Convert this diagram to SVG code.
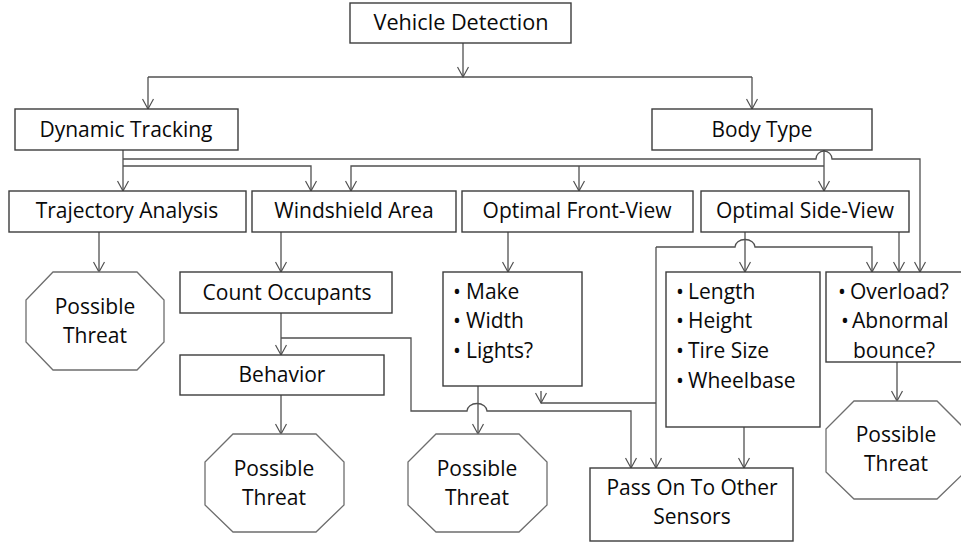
<svg xmlns="http://www.w3.org/2000/svg" width="961" height="546" viewBox="0 0 961 546">
  <defs>
    <style>
      .box { fill: #ffffff; stroke: #3c3c3c; stroke-width: 1.4; }
      .oct { fill: #ffffff; stroke: #6e6e6e; stroke-width: 1.3; }
      .lbl { font-family: "Open Sans", "Liberation Sans", sans-serif; font-size: 21px; fill: #0a0a0a; text-anchor: middle; }
      .top { font-size: 22px; }
      .lst { font-family: "Open Sans", "Liberation Sans", sans-serif; font-size: 21px; fill: #0a0a0a; }
      .con { fill: none; stroke: #505050; stroke-width: 1.3; }
      .arr { marker-end: url(#vhead); }
    </style>
    <marker id="vhead" viewBox="0 0 12 12" refX="11" refY="6" markerWidth="12" markerHeight="12" markerUnits="userSpaceOnUse" orient="auto">
      <path d="M1,0.5 L11,6 L1,11.5" fill="none" stroke="#505050" stroke-width="1.2"/>
    </marker>
  </defs>

  <rect width="961" height="546" fill="#ffffff"/>

  <!-- connectors -->
  <g id="connectors">
    <!-- Vehicle Detection split -->
    <path class="con arr" d="M463,43 V77"/>
    <path class="con" d="M148,77 H752"/>
    <path class="con arr" d="M148,77 V109"/>
    <path class="con arr" d="M752,77 V109"/>

    <!-- Dynamic Tracking outputs -->
    <path class="con arr" d="M123,150 V191"/>
    <path class="con arr" d="M123,166 H311 V191"/>
    <path class="con arr" d="M123,159 H816 A8,8 0 0 1 832,159 H920 V272"/>

    <!-- Body Type outputs -->
    <path class="con arr" d="M824,150 V191"/>
    <path class="con arr" d="M824,166 H351 V191"/>
    <path class="con arr" d="M579,166 V191"/>

    <!-- row two downwards -->
    <path class="con arr" d="M99,232 V272"/>
    <path class="con arr" d="M281,232 V272"/>
    <path class="con arr" d="M508,232 V272"/>
    <path class="con arr" d="M745,232 V272"/>
    <path class="con arr" d="M899,232 V272"/>

    <!-- Pass On feed, hopping over the side view stem -->
    <path class="con arr" d="M656,247 H735 A10,7.5 0 0 1 755,247 H872 V272"/>
    <path class="con arr" d="M656,247 V468"/>
    <path class="con" d="M656,403 H541"/>
    <path class="con arr" d="M541,391 V403"/>

    <!-- occupants / behavior -->
    <path class="con arr" d="M281,313 V355"/>
    <path class="con arr" d="M281,338 H411 V411 H467 A10,7.5 0 0 1 487,411 H631 V468"/>
    <path class="con arr" d="M281,395 V434"/>

    <!-- lists downwards -->
    <path class="con arr" d="M478,386 V434"/>
    <path class="con arr" d="M744,427 V468"/>
    <path class="con arr" d="M897,362 V401"/>
  </g>

  <!-- nodes -->
  <g id="vehicle-detection">
    <rect class="box" x="350" y="3" width="221" height="40"/>
    <text class="lbl top" x="461" y="30" textLength="175" lengthAdjust="spacingAndGlyphs">Vehicle Detection</text>
  </g>
  <g id="dynamic-tracking">
    <rect class="box" x="15" y="109" width="223" height="41"/>
    <text class="lbl top" x="126" y="137" textLength="173" lengthAdjust="spacingAndGlyphs">Dynamic Tracking</text>
  </g>
  <g id="body-type">
    <rect class="box" x="652" y="109" width="220" height="41"/>
    <text class="lbl top" x="762" y="137" textLength="101" lengthAdjust="spacingAndGlyphs">Body Type</text>
  </g>

  <g id="trajectory-analysis">
    <rect class="box" x="9" y="191" width="237" height="41"/>
    <text class="lbl" x="127" y="218">Trajectory Analysis</text>
  </g>
  <g id="windshield-area">
    <rect class="box" x="252" y="191" width="204" height="41"/>
    <text class="lbl" x="354" y="218">Windshield Area</text>
  </g>
  <g id="optimal-front-view">
    <rect class="box" x="462" y="191" width="231" height="41"/>
    <text class="lbl" x="577" y="218">Optimal Front-View</text>
  </g>
  <g id="optimal-side-view">
    <rect class="box" x="701" y="191" width="208" height="41"/>
    <text class="lbl" x="805" y="218">Optimal Side-View</text>
  </g>

  <g id="threat-trajectory">
    <polygon class="oct" points="53,272 137,272 164,300 164,342 137,370 53,370 26,342 26,300"/>
    <text class="lbl" x="95" y="314">Possible</text>
    <text class="lbl" x="95" y="343">Threat</text>
  </g>

  <g id="count-occupants">
    <rect class="box" x="180" y="272" width="212" height="41"/>
    <text class="lbl" x="287" y="300">Count Occupants</text>
  </g>
  <g id="behavior">
    <rect class="box" x="180" y="355" width="204" height="40"/>
    <text class="lbl" x="282" y="382">Behavior</text>
  </g>
  <g id="threat-behavior">
    <polygon class="oct" points="233,434 316,434 344,462 344,505 316,532 233,532 205,505 205,462"/>
    <text class="lbl" x="274" y="476">Possible</text>
    <text class="lbl" x="274" y="505">Threat</text>
  </g>

  <g id="front-features">
    <rect class="box" x="443" y="272" width="139" height="114"/>
    <text class="lst"><tspan x="453" y="299">•</tspan><tspan x="466" y="299">Make</tspan></text>
    <text class="lst"><tspan x="453" y="328">•</tspan><tspan x="466" y="328">Width</tspan></text>
    <text class="lst"><tspan x="453" y="358">•</tspan><tspan x="466" y="358">Lights?</tspan></text>
  </g>
  <g id="threat-front">
    <polygon class="oct" points="436,434 519,434 547,462 547,505 519,532 436,532 408,505 408,462"/>
    <text class="lbl" x="477" y="476">Possible</text>
    <text class="lbl" x="477" y="505">Threat</text>
  </g>

  <g id="side-features">
    <rect class="box" x="666" y="272" width="154" height="155"/>
    <text class="lst"><tspan x="676" y="299">•</tspan><tspan x="688" y="299">Length</tspan></text>
    <text class="lst"><tspan x="676" y="328">•</tspan><tspan x="688" y="328">Height</tspan></text>
    <text class="lst"><tspan x="676" y="358">•</tspan><tspan x="688" y="358">Tire Size</tspan></text>
    <text class="lst"><tspan x="676" y="388">•</tspan><tspan x="688" y="388">Wheelbase</tspan></text>
  </g>

  <g id="load-checks">
    <rect class="box" x="826" y="272" width="140" height="90"/>
    <text class="lst"><tspan x="838" y="299">•</tspan><tspan x="850" y="299">Overload?</tspan></text>
    <text class="lst"><tspan x="841" y="328">•</tspan><tspan x="852" y="328">Abnormal</tspan></text>
    <text class="lst"><tspan x="853" y="358">bounce?</tspan></text>
  </g>
  <g id="threat-load">
    <polygon class="oct" points="854,401 937,401 965,429 965,472 937,499 854,499 826,472 826,429"/>
    <text class="lbl" x="896" y="442">Possible</text>
    <text class="lbl" x="896" y="471">Threat</text>
  </g>

  <g id="pass-on">
    <rect class="box" x="590" y="468" width="203" height="73"/>
    <text class="lbl" x="692" y="495">Pass On To Other</text>
    <text class="lbl" x="692" y="524">Sensors</text>
  </g>
</svg>
